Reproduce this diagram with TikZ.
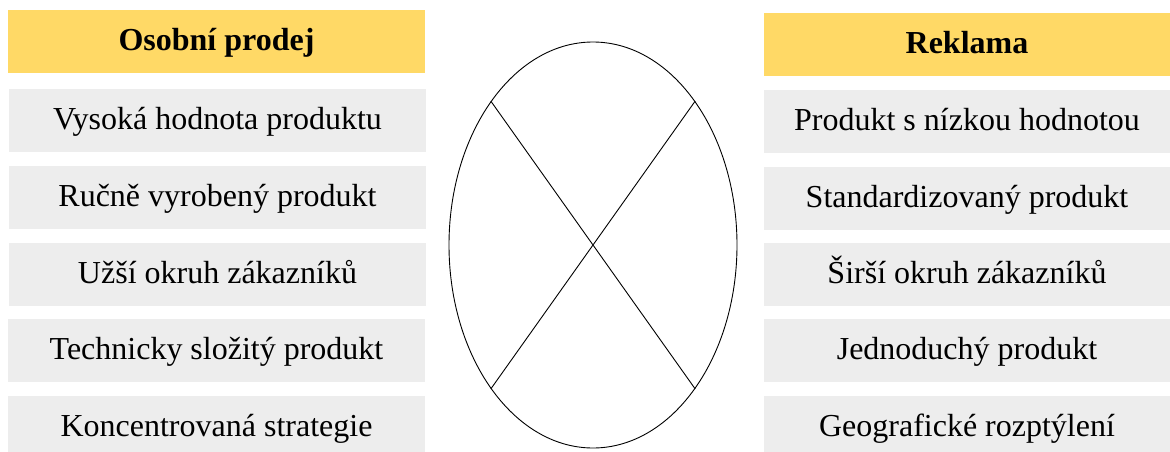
\documentclass[tikz,border=0pt]{standalone}
\usepackage{fontspec}
\setmainfont{Liberation Serif}
\usetikzlibrary{shapes.geometric}
\definecolor{hdr}{HTML}{FFD966}
\definecolor{itm}{HTML}{EDEDED}
\begin{document}
\begin{tikzpicture}[x=1pt,y=-1pt,
  box/.style={rectangle, inner sep=0pt, minimum height=63pt, text height=24pt, text depth=6pt, align=center, font=\fontsize{32}{38}\selectfont},
  lhead/.style={box, fill=hdr, minimum width=417pt, font=\fontsize{32}{38}\selectfont\bfseries},
  rhead/.style={box, fill=hdr, minimum width=406pt, font=\fontsize{32}{38}\selectfont\bfseries},
  litem/.style={box, fill=itm, minimum width=417pt},
  ritem/.style={box, fill=itm, minimum width=406pt},
  oval/.style={ellipse, draw=black, line width=0.9pt, inner sep=0pt, minimum width=288pt, minimum height=406pt},
  cross/.style={draw=black, line width=0.9pt}]
\useasboundingbox (0,0) rectangle (1170,452);
% left column
\node[lhead] (lh) at (216.5,41.3) {Osobní prodej};
\node[litem] (l1) at (217.5,120.5) {Vysoká hodnota produktu};
\node[litem] (l2) at (217.5,197.5) {Ručně vyrobený produkt};
\node[litem] (l3) at (217.5,274.5) {Užší okruh zákazníků};
\node[litem] (l4) at (216.5,350.5) {Technicky složitý produkt};
\node[litem] (l5) at (216.5,427.5) {Koncentrovaná strategie};
% right column
\node[rhead] (rh) at (967,44.5) {Reklama};
\node[ritem] (r1) at (967,121.5) {Produkt s nízkou hodnotou};
\node[ritem] (r2) at (967,198) {Standardizovaný produkt};
\node[ritem] (r3) at (967,274.5) {Širší okruh zákazníků};
\node[ritem] (r4) at (967,350.5) {Jednoduchý produkt};
\node[ritem] (r5) at (967,427.5) {Geografické rozptýlení};
% ellipse with cross
\node[oval] (E) at (593,245) {};
\draw[cross] (E.north west) -- (E.south east);
\draw[cross] (E.north east) -- (E.south west);
\end{tikzpicture}
\end{document}
